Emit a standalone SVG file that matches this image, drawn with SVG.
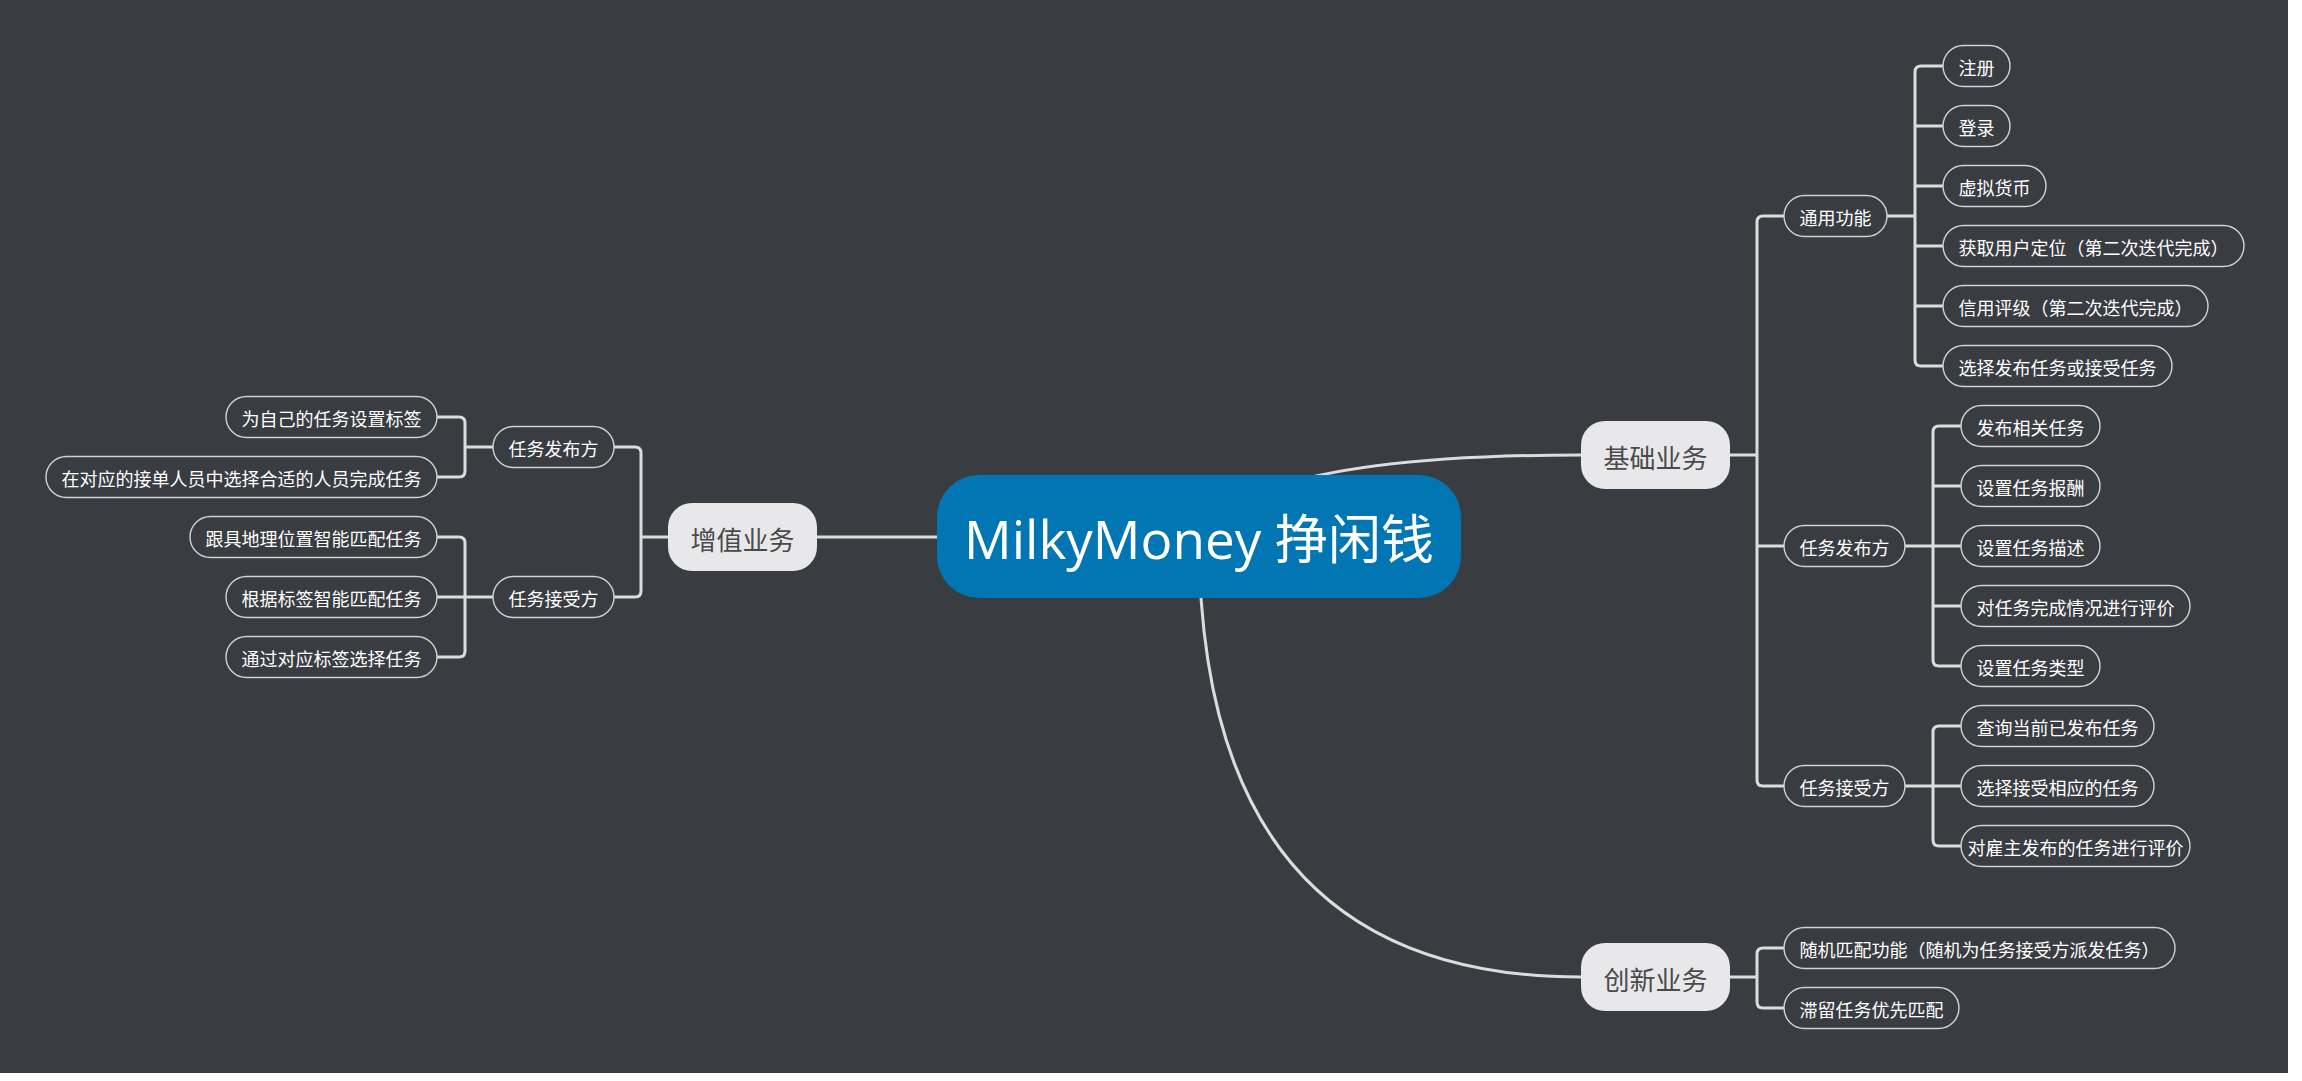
<svg xmlns="http://www.w3.org/2000/svg" width="2302" height="1081" viewBox="0 0 2302 1081">
<style>
.c{fill:none;stroke:#dcdcdc;stroke-width:3;stroke-linecap:round}
.cv{fill:none;stroke:#dcdcdc;stroke-width:3}
.t rect{fill:#393c41;stroke:#d2d2d2;stroke-width:1.4}
.t text{font-family:"Noto Sans CJK SC","Noto Sans",sans-serif;font-size:18px;fill:#ffffff;text-anchor:middle}
.m rect{fill:#e8e8ea}
.m text{font-family:"Noto Sans CJK SC","Noto Sans",sans-serif;font-size:26px;fill:#4a4a4a;text-anchor:middle}
.r rect{fill:#0176b3}
.r text{font-family:"Open Sans","Noto Sans CJK SC",sans-serif;font-size:53px;fill:#ffffff;text-anchor:middle}
</style>
<rect x="0" y="0" width="2302" height="1081" fill="#ffffff"/>
<rect x="0" y="0" width="2288" height="1073" fill="#393c41"/>
<g id="connectors">
<path class="cv" d="M1199 536 Q1250 455 1581 455"/>
<path class="cv" d="M1199 536 Q1199 977 1581 977"/>
<path class="c" d="M817 537 H1199"/>
<path class="c" d="M1730 455 H1757 M1784 216 H1763 Q1757 216 1757 222 V780 Q1757 786 1763 786 H1784 M1757 546 H1784"/>
<path class="c" d="M1887 216 H1915 M1943 66 H1921 Q1915 66 1915 72 V360 Q1915 366 1921 366 H1943 M1915 126 H1943 M1915 186 H1943 M1915 246 H1943 M1915 306 H1943"/>
<path class="c" d="M1905 546 H1961 M1961 426 H1939 Q1933 426 1933 432 V660 Q1933 666 1939 666 H1961 M1933 486 H1961 M1933 606 H1961"/>
<path class="c" d="M1905 786 H1961 M1961 726 H1939 Q1933 726 1933 732 V840 Q1933 846 1939 846 H1961"/>
<path class="c" d="M1730 977 H1757 M1784 948 H1763 Q1757 948 1757 954 V1002 Q1757 1008 1763 1008 H1784"/>
<path class="c" d="M668 537 H641 M614 447 H635 Q641 447 641 453 V591 Q641 597 635 597 H614"/>
<path class="c" d="M493 447 H465 M437 417 H459 Q465 417 465 423 V471 Q465 477 459 477 H437"/>
<path class="c" d="M493 597 H437 M437 537 H459 Q465 537 465 543 V651 Q465 657 459 657 H437"/>
</g>
<g id="root" class="r"><rect x="937" y="475" width="524" height="123" rx="42"/><text x="1199" y="559">MilkyMoney 挣闲钱</text></g>
<g id="n-jichu" class="m"><rect x="1581" y="421" width="149" height="68" rx="24"/><text x="1655.5" y="467.5">基础业务</text></g>
<g id="n-chuangxin" class="m"><rect x="1581" y="943" width="149" height="68" rx="24"/><text x="1655.5" y="989.5">创新业务</text></g>
<g id="n-zengzhi" class="m"><rect x="668" y="503" width="149" height="68" rx="24"/><text x="742.5" y="549.5">增值业务</text></g>
<g id="n-tongyong" class="t"><rect x="1784" y="195.5" width="103" height="41" rx="20.5"/><text x="1835.5" y="224.5">通用功能</text></g>
<g id="n-fabu" class="t"><rect x="1784" y="525.5" width="121" height="41" rx="20.5"/><text x="1844.5" y="554.5">任务发布方</text></g>
<g id="n-jieshou" class="t"><rect x="1784" y="765.5" width="121" height="41" rx="20.5"/><text x="1844.5" y="794.5">任务接受方</text></g>
<g id="n-suiji" class="t"><rect x="1784" y="927.5" width="391" height="41" rx="20.5"/><text x="1979.5" y="956.5">随机匹配功能（随机为任务接受方派发任务）</text></g>
<g id="n-zhiliu" class="t"><rect x="1784" y="987.5" width="175" height="41" rx="20.5"/><text x="1871.5" y="1016.5">滞留任务优先匹配</text></g>
<g id="n-zhuce" class="t"><rect x="1943" y="45.5" width="67" height="41" rx="20.5"/><text x="1976.5" y="74.5">注册</text></g>
<g id="n-denglu" class="t"><rect x="1943" y="105.5" width="67" height="41" rx="20.5"/><text x="1976.5" y="134.5">登录</text></g>
<g id="n-xuni" class="t"><rect x="1943" y="165.5" width="103" height="41" rx="20.5"/><text x="1994.5" y="194.5">虚拟货币</text></g>
<g id="n-dingwei" class="t"><rect x="1943" y="225.5" width="301" height="41" rx="20.5"/><text x="2093.5" y="254.5">获取用户定位（第二次迭代完成）</text></g>
<g id="n-xinyong" class="t"><rect x="1943" y="285.5" width="265" height="41" rx="20.5"/><text x="2075.5" y="314.5">信用评级（第二次迭代完成）</text></g>
<g id="n-xuanze" class="t"><rect x="1943" y="345.5" width="229" height="41" rx="20.5"/><text x="2057.5" y="374.5">选择发布任务或接受任务</text></g>
<g id="n-fbxg" class="t"><rect x="1961" y="405.5" width="139" height="41" rx="20.5"/><text x="2030.5" y="434.5">发布相关任务</text></g>
<g id="n-baochou" class="t"><rect x="1961" y="465.5" width="139" height="41" rx="20.5"/><text x="2030.5" y="494.5">设置任务报酬</text></g>
<g id="n-miaoshu" class="t"><rect x="1961" y="525.5" width="139" height="41" rx="20.5"/><text x="2030.5" y="554.5">设置任务描述</text></g>
<g id="n-pingjia1" class="t"><rect x="1961" y="585.5" width="229" height="41" rx="20.5"/><text x="2075.5" y="614.5">对任务完成情况进行评价</text></g>
<g id="n-leixing" class="t"><rect x="1961" y="645.5" width="139" height="41" rx="20.5"/><text x="2030.5" y="674.5">设置任务类型</text></g>
<g id="n-chaxun" class="t"><rect x="1961" y="705.5" width="193" height="41" rx="20.5"/><text x="2057.5" y="734.5">查询当前已发布任务</text></g>
<g id="n-xzjs" class="t"><rect x="1961" y="765.5" width="193" height="41" rx="20.5"/><text x="2057.5" y="794.5">选择接受相应的任务</text></g>
<g id="n-pingjia2" class="t"><rect x="1961" y="825.5" width="229" height="41" rx="20.5"/><text x="2075.5" y="854.5">对雇主发布的任务进行评价</text></g>
<g id="n-lfabu" class="t"><rect x="493" y="426.5" width="121" height="41" rx="20.5"/><text x="553.5" y="455.5">任务发布方</text></g>
<g id="n-ljieshou" class="t"><rect x="493" y="576.5" width="121" height="41" rx="20.5"/><text x="553.5" y="605.5">任务接受方</text></g>
<g id="n-biaoqian" class="t"><rect x="226" y="396.5" width="211" height="41" rx="20.5"/><text x="331.5" y="425.5">为自己的任务设置标签</text></g>
<g id="n-heshi" class="t"><rect x="46" y="456.5" width="391" height="41" rx="20.5"/><text x="241.5" y="485.5">在对应的接单人员中选择合适的人员完成任务</text></g>
<g id="n-dili" class="t"><rect x="190" y="516.5" width="247" height="41" rx="20.5"/><text x="313.5" y="545.5">跟具地理位置智能匹配任务</text></g>
<g id="n-genju" class="t"><rect x="226" y="576.5" width="211" height="41" rx="20.5"/><text x="331.5" y="605.5">根据标签智能匹配任务</text></g>
<g id="n-tongguo" class="t"><rect x="226" y="636.5" width="211" height="41" rx="20.5"/><text x="331.5" y="665.5">通过对应标签选择任务</text></g>
</svg>
